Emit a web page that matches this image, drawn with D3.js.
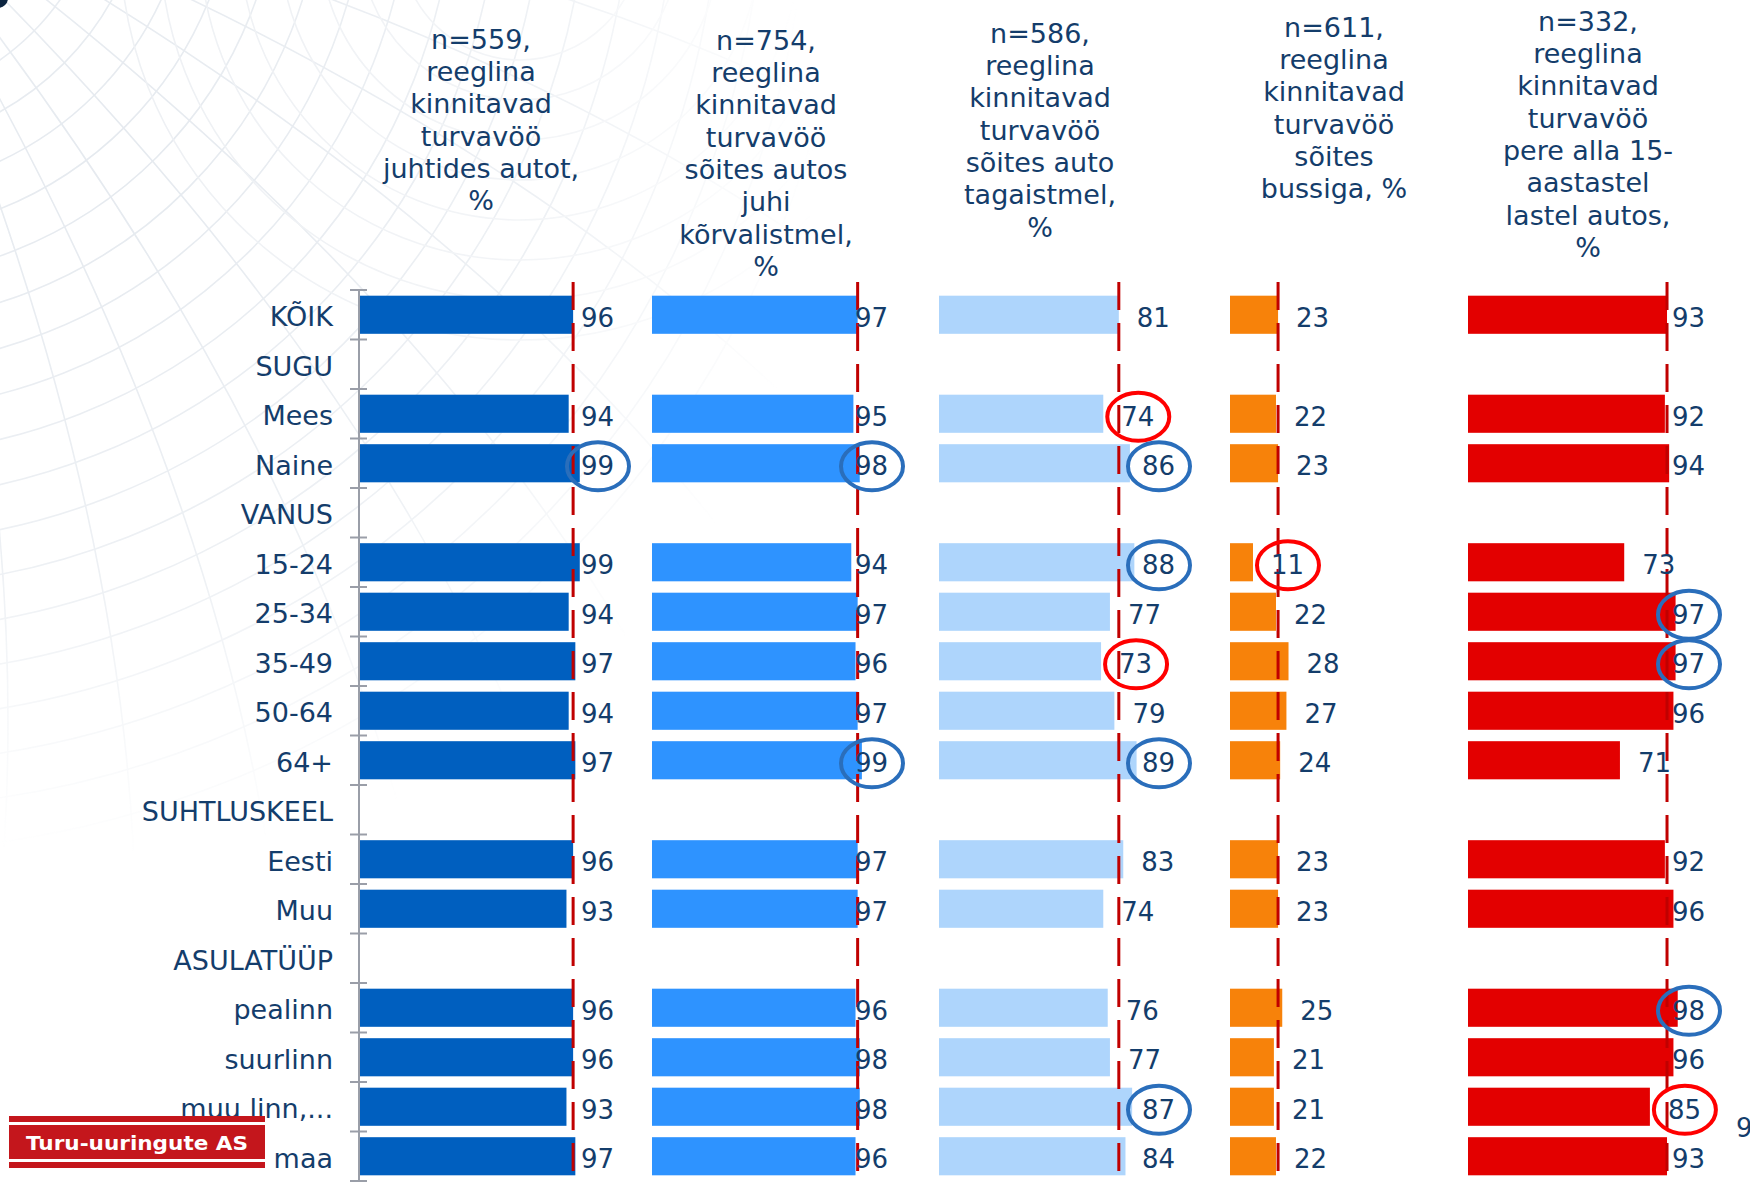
<!DOCTYPE html>
<html>
<head>
<meta charset="utf-8">
<script src="https://cdn.jsdelivr.net/npm/d3@7"></script>
<style>
  body { margin: 0; background: #fff; }
  svg { display: block; }
  text { font-family: "DejaVu Sans", Verdana, sans-serif; fill: #143d6b; }
</style>
</head>
<body>
<svg id="chart" width="1750" height="1182"></svg>
<script>
// categories (section headers have no values)
const ROWS = ['KÕIK', 'SUGU', 'Mees', 'Naine', 'VANUS', '15-24', '25-34', '35-49', '50-64', '64+',
  'SUHTLUSKEEL', 'Eesti', 'Muu', 'ASULATÜÜP', 'pealinn', 'suurlinn', 'muu linn,...', 'maa']

// series values, %
const juhtides    = [96, null, 94, 99, null, 99, 94, 97, 94, 97, null, 96, 93, null, 96, 96, 93, 97]
const korvalistmel = [97, null, 95, 98, null, 94, 97, 96, 97, 99, null, 97, 97, null, 96, 98, 98, 96]
const tagaistmel  = [81, null, 74, 86, null, 88, 77, 73, 79, 89, null, 83, 74, null, 76, 77, 87, 84]
const bussiga     = [23, null, 22, 23, null, 11, 22, 28, 27, 24, null, 23, 23, null, 25, 21, 21, 22]
const lapsed      = [93, null, 92, 94, null, 73, 97, 97, 96, 71, null, 92, 96, null, 98, 96, 85, 93]

// column titles
const H1 = ['n=559,', 'reeglina', 'kinnitavad', 'turvavöö', 'juhtides autot,', '%']
const H2 = ['n=754,', 'reeglina', 'kinnitavad', 'turvavöö', 'sõites autos', 'juhi', 'kõrvalistmel,', '%']
const H3 = ['n=586,', 'reeglina', 'kinnitavad', 'turvavöö', 'sõites auto', 'tagaistmel,', '%']
const H4 = ['n=611,', 'reeglina', 'kinnitavad', 'turvavöö', 'sõites', 'bussiga, %']
const H5 = ['n=332,', 'reeglina', 'kinnitavad', 'turvavöö', 'pere alla 15-', 'aastastel', 'lastel autos,', '%']

// circled values: panel index, row, above / below average
const HIGHLIGHTS = [
  [0, 'Naine', 'up'],
  [1, 'Naine', 'up'], [1, '64+', 'up'],
  [2, 'Mees', 'down'], [2, 'Naine', 'up'], [2, '15-24', 'up'], [2, '35-49', 'down'],
  [2, '64+', 'up'], [2, 'muu linn,...', 'up'],
  [3, '15-24', 'down'],
  [4, '25-34', 'up'], [4, '35-49', 'up'], [4, 'pealinn', 'up'], [4, 'muu linn,...', 'down']
]

// layout of each column
const panels = [
  { values: juhtides,     title: H1, color: '#005fbf', x0: 360,  w: 222, labelMax: 581,  tx: 481,  ty: 39 },
  { values: korvalistmel, title: H2, color: '#2e93ff', x0: 652,  w: 212, labelMax: 855,  tx: 766,  ty: 40 },
  { values: tagaistmel,   title: H3, color: '#aed5fc', x0: 939,  w: 222, labelMax: 1142, tx: 1040, ty: 33 },
  { values: bussiga,      title: H4, color: '#f7820a', x0: 1230, w: 209, labelMax: 1500, tx: 1334, ty: 27 },
  { values: lapsed,       title: H5, color: '#e30000', x0: 1468, w: 214, labelMax: 1672, tx: 1588, ty: 21 }
]

const svg = d3.select('#chart')
const defs = svg.append('defs')

// faint background swirl
const grad = defs.append('radialGradient').attr('id', 'fadeGrad')
  .attr('gradientUnits', 'userSpaceOnUse').attr('cx', 120).attr('cy', 160).attr('r', 700)
grad.append('stop').attr('offset', 0).attr('stop-color', '#fff').attr('stop-opacity', 0.9)
grad.append('stop').attr('offset', 0.6).attr('stop-color', '#fff').attr('stop-opacity', 0.6)
grad.append('stop').attr('offset', 1).attr('stop-color', '#fff').attr('stop-opacity', 0)
defs.append('mask').attr('id', 'fade')
  .append('rect').attr('width', 1750).attr('height', 1182).attr('fill', 'url(#fadeGrad)')

const bg = svg.append('g').attr('mask', 'url(#fade)')
  .attr('fill', 'none').attr('stroke', '#e2e7ed').attr('stroke-width', 1.6)
bg.selectAll('.ring').data(d3.range(200, 1000, 44)).join('circle')
  .attr('cx', -140).attr('cy', -140).attr('r', d => d)
// meridian-like arcs
bg.selectAll('.arc').data(d3.range(0, 11)).join('path')
  .attr('d', k => {
    const a = (8 + k * 7.5) * Math.PI / 180
    const ex = -140 + 1100 * Math.cos(a), ey = -140 + 1100 * Math.sin(a)
    return `M-140,-140 Q${-140 + 650 * Math.cos(a - 0.18)},${-140 + 650 * Math.sin(a - 0.18)} ${ex},${ey}`
  })
bg.selectAll('.ring2').data(d3.range(120, 420, 40)).join('circle')
  .attr('cx', 520).attr('cy', -60).attr('r', d => d).attr('stroke', '#ebeef2')

svg.append('circle').attr('cx', -2).attr('cy', -2).attr('r', 10).attr('fill', '#0c2440')

// rows
const y = d3.scaleBand()
  .domain(ROWS)
  .range([290, 290 + ROWS.length * 49.5])
  .paddingInner(0.23)
  .paddingOuter(0.115)
const gap = (y.step() - y.bandwidth()) / 2
const mid = r => y(r) + y.bandwidth() / 2

// category axis
const axisX = 359
svg.append('g')
  .attr('transform', `translate(${axisX - 4}, 0)`)
  .call(d3.axisLeft(y).tickSize(0).tickPadding(22))
  .call(g => g.select('.domain').remove())
  .selectAll('text')
    .attr('font-size', 27)
    .attr('dy', '0.42em')
    .attr('font-family', '"DejaVu Sans", Verdana, sans-serif')
    .attr('fill', '#143d6b')

const bounds = ROWS.map(r => y(r) - gap).concat([y(ROWS[ROWS.length - 1]) + y.bandwidth() + gap])
const ax = svg.append('g').attr('stroke', '#9a9ea8').attr('stroke-width', 2)
ax.append('line').attr('x1', axisX).attr('x2', axisX).attr('y1', bounds[0]).attr('y2', 1182)
ax.selectAll('.tick').data(bounds).join('line')
  .attr('x1', axisX - 9).attr('x2', axisX + 8)
  .attr('y1', d => d).attr('y2', d => d)

// columns
panels.forEach((p, pi) => {
  const x = d3.scaleLinear().domain([0, 100]).range([p.x0, p.x0 + p.w])
  const rows = ROWS.map((r, i) => ({ row: r, v: p.values[i] })).filter(d => d.v != null)
  const g = svg.append('g')

  g.selectAll('rect').data(rows).join('rect')
    .attr('x', x(0))
    .attr('y', d => y(d.row))
    .attr('width', d => x(d.v) - x(0))
    .attr('height', y.bandwidth())
    .attr('fill', p.color)

  // average line (KÕIK)
  g.append('line')
    .attr('x1', x(p.values[0])).attr('x2', x(p.values[0]))
    .attr('y1', 282).attr('y2', 1182)
    .attr('stroke', '#c00000').attr('stroke-width', 3)
    .attr('stroke-dasharray', '28 13')

  const labelX = v => Math.min(x(v) + 18, p.labelMax)

  g.selectAll('text.val').data(rows).join('text')
    .attr('class', 'val')
    .attr('x', d => labelX(d.v))
    .attr('y', d => mid(d.row) + 3)
    .attr('dy', '0.35em')
    .attr('font-size', 26)
    .text(d => d.v)

  HIGHLIGHTS.filter(h => h[0] === pi).forEach(([, row, dir]) => {
    const v = p.values[ROWS.indexOf(row)]
    g.append('ellipse')
      .attr('cx', labelX(v) + 17)
      .attr('cy', mid(row) + 3)
      .attr('rx', 31).attr('ry', 24)
      .attr('fill', 'none')
      .attr('stroke', dir === 'up' ? '#2a6ebb' : '#ff0000')
      .attr('stroke-width', 4)
  })

  g.append('text')
    .attr('text-anchor', 'middle')
    .attr('font-size', 27)
    .selectAll('tspan').data(p.title).join('tspan')
      .attr('x', p.tx)
      .attr('y', (d, i) => p.ty + i * 32.3)
      .attr('dy', '0.36em')
      .text(d => d)
})

// label partly outside the picture, as in the source
svg.append('text').attr('x', 1736).attr('y', 1137).attr('font-size', 26).text('9')

// logo
const logo = svg.append('g').attr('transform', 'translate(9, 1116)')
logo.append('rect').attr('width', 256).attr('height', 52).attr('fill', '#c4161c')
logo.selectAll('.stripe').data([6, 43]).join('rect')
  .attr('y', d => d).attr('width', 256).attr('height', 3).attr('fill', '#fff')
logo.append('text')
  .attr('x', 128).attr('y', 34)
  .attr('text-anchor', 'middle')
  .attr('font-family', '"Liberation Sans", Arial, sans-serif')
  .attr('font-weight', 'bold')
  .attr('font-size', 20)
  .attr('textLength', 222).attr('lengthAdjust', 'spacingAndGlyphs')
  .style('fill', '#fff')
  .text('Turu-uuringute AS')
</script>
</body>
</html>
